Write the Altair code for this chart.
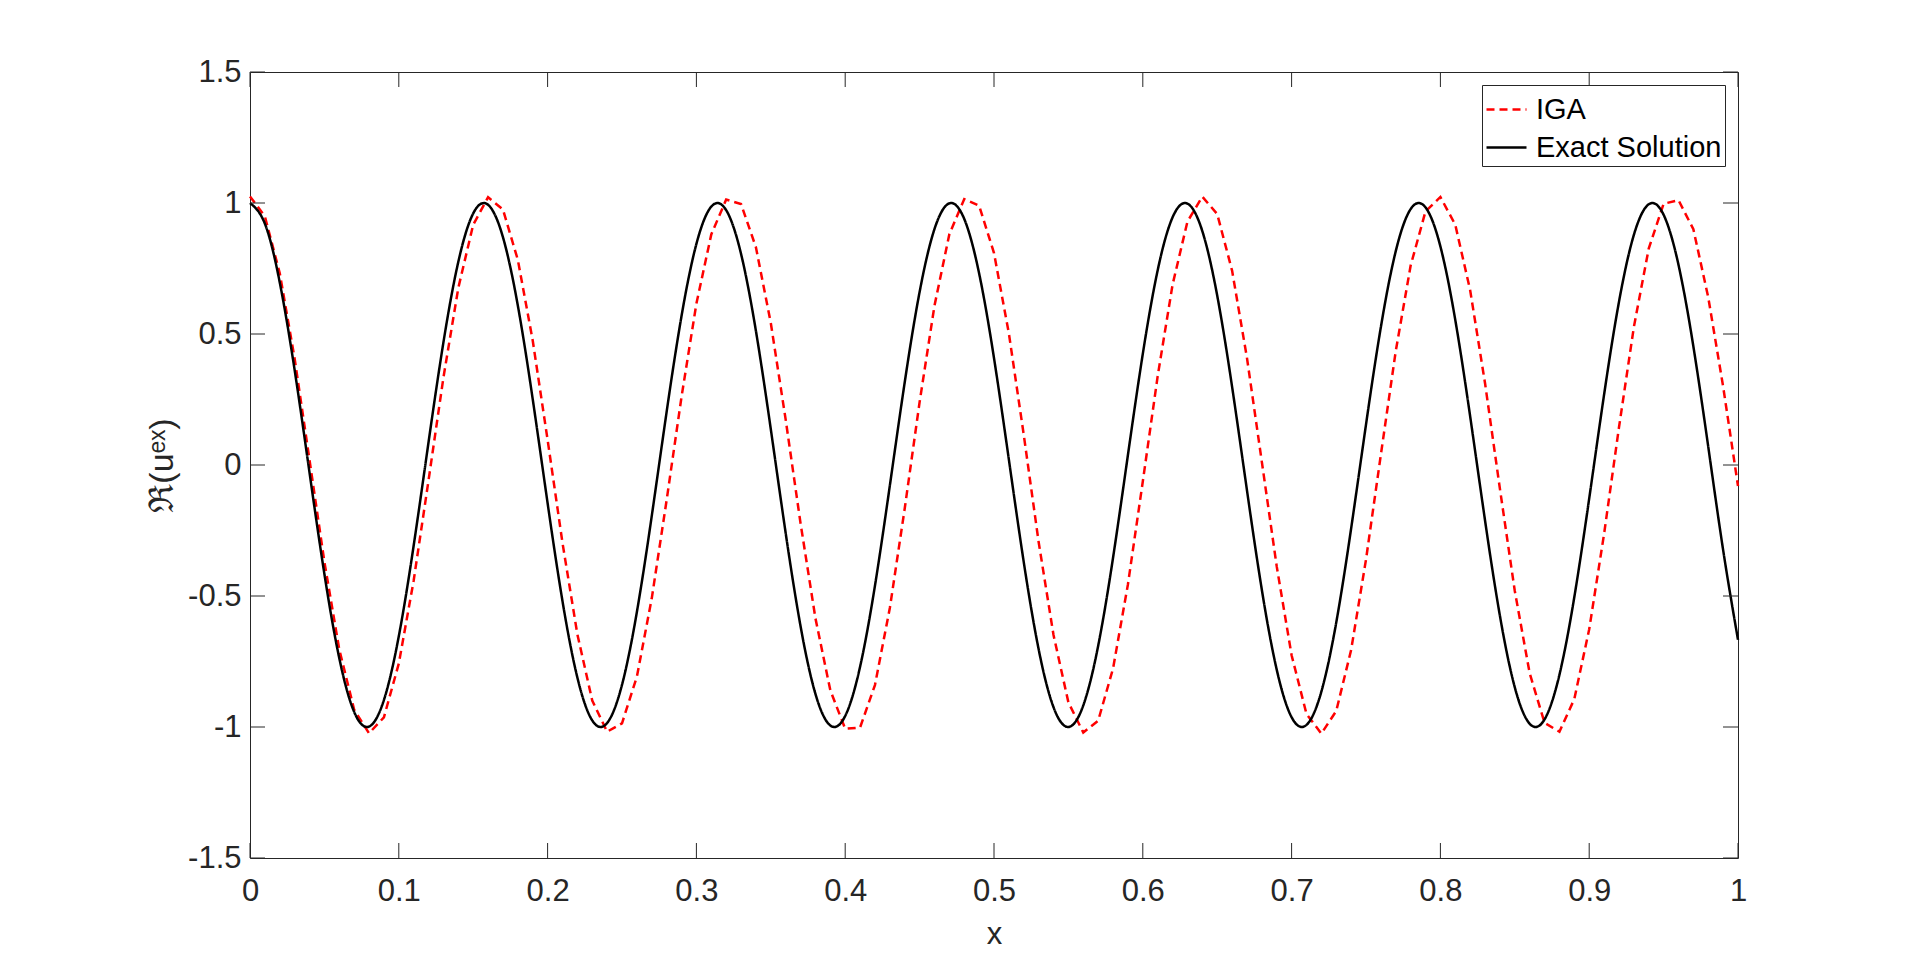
import altair as alt
import pandas as pd

# x positions of the sampled solutions
x_grid = [0.00, 0.01, 0.02, 0.03, 0.04, 0.05, 0.06, 0.07, 0.08, 0.09,
          0.10, 0.11, 0.12, 0.13, 0.14, 0.15, 0.16, 0.17, 0.18, 0.19,
          0.20, 0.21, 0.22, 0.23, 0.24, 0.25, 0.26, 0.27, 0.28, 0.29,
          0.30, 0.31, 0.32, 0.33, 0.34, 0.35, 0.36, 0.37, 0.38, 0.39,
          0.40, 0.41, 0.42, 0.43, 0.44, 0.45, 0.46, 0.47, 0.48, 0.49,
          0.50, 0.51, 0.52, 0.53, 0.54, 0.55, 0.56, 0.57, 0.58, 0.59,
          0.60, 0.61, 0.62, 0.63, 0.64, 0.65, 0.66, 0.67, 0.68, 0.69,
          0.70, 0.71, 0.72, 0.73, 0.74, 0.75, 0.76, 0.77, 0.78, 0.79,
          0.80, 0.81, 0.82, 0.83, 0.84, 0.85, 0.86, 0.87, 0.88, 0.89,
          0.90, 0.91, 0.92, 0.93, 0.94, 0.95, 0.96, 0.97, 0.98, 0.99,
          1.00]

# exact solution (black solid)
exact_vals = [1.0000, 0.9211, 0.6967, 0.3624, -0.0292, -0.4161, -0.7374, -0.9422, -0.9983, -0.8968,
              -0.6536, -0.3073, 0.0875, 0.4685, 0.7756, 0.9602, 0.9932, 0.8694, 0.6084, 0.2513,
              -0.1455, -0.5193, -0.8111, -0.9749, -0.9847, -0.8391, -0.5610, -0.1944, 0.2031, 0.5684,
              0.8438, 0.9862, 0.9728, 0.8059, 0.5117, 0.1367, -0.2598, -0.6154, -0.8738, -0.9942,
              -0.9577, -0.7700, -0.4607, -0.0787, 0.3157, 0.6603, 0.9006, 0.9988, 0.9392, 0.7314,
              0.4081, 0.0204, -0.3707, -0.7032, -0.9245, -1.0000, -0.9176, -0.6904, -0.3541, 0.0380,
              0.4242, 0.7433, 0.9452, 0.9977, 0.8928, 0.6469, 0.2989, -0.0963, -0.4763, -0.7811,
              -0.9626, -0.9921, -0.8650, -0.6013, -0.2427, 0.1543, 0.5268, 0.8162, 0.9768, 0.9832,
              0.8342, 0.5536, 0.1857, -0.2117, -0.5756, -0.8486, -0.9876, -0.9708, -0.8006, -0.5041,
              -0.1280, 0.2684, 0.6223, 0.8780, 0.9951, 0.9551, 0.7643, 0.4528, 0.0699, -0.3241,
              -0.6669]

# IGA solution (red dashed)
iga_vals = [1.025, 0.949, 0.732, 0.406, 0.019, -0.370, -0.704, -0.934, -1.024, -0.963,
            -0.758, -0.441, -0.058, 0.334, 0.676, 0.917, 1.022, 0.975, 0.783, 0.475,
            0.096, -0.297, -0.646, -0.899, -1.018, -0.986, -0.808, -0.509, -0.134, 0.260,
            0.616, 0.880, 1.013, 0.996, 0.831, 0.542, 0.173, -0.223, -0.585, -0.860,
            -1.007, -1.002, -0.840, -0.546, -0.166, 0.240, 0.608, 0.881, 1.015, 0.990,
            0.809, 0.502, 0.115, -0.294, -0.649, -0.906, -1.021, -0.976, -0.777, -0.456,
            -0.063, 0.339, 0.688, 0.929, 1.024, 0.958, 0.742, 0.409, 0.012, -0.387,
            -0.726, -0.950, -1.025, -0.939, -0.706, -0.361, 0.040, 0.435, 0.761, 0.968,
            1.023, 0.917, 0.667, 0.312, -0.091, -0.481, -0.795, -0.984, -1.018, -0.893,
            -0.627, -0.263, 0.143, 0.526, 0.826, 0.997, 1.011, 0.900, 0.640, 0.300,
            -0.080]

series_names = ["IGA", "Exact Solution"]
series_colors = ["#FF0000", "#000000"]
series_dash = [[8, 5], [1, 0]]

x_ticks = [0, 0.1, 0.2, 0.3, 0.4, 0.5, 0.6, 0.7, 0.8, 0.9, 1]
y_ticks = [-1.5, -1, -0.5, 0, 0.5, 1, 1.5]

W, H = 1488, 786
TICK = 15
AX = "#262626"
FONT = "Liberation Sans"

df_iga = pd.DataFrame({"x": x_grid, "y": iga_vals, "series": series_names[0]})
df_exact = pd.DataFrame({"x": x_grid, "y": exact_vals, "series": series_names[1]})
df_xt = pd.DataFrame({"x": x_ticks})
df_yt = pd.DataFrame({"y": y_ticks})

xscale = alt.Scale(domain=[0, 1], nice=False, zero=False)
yscale = alt.Scale(domain=[-1.5, 1.5], nice=False, zero=False)

xaxis = alt.Axis(values=x_ticks, labelExpr="datum.value + ''", ticks=False, tickSize=0,
                 domain=False, grid=False, title="x", labelFontSize=31, titleFontSize=31,
                 labelPadding=18, titlePadding=13, labelColor=AX, titleColor=AX,
                 labelFlush=False, titleFontWeight="normal", labelFont=FONT, titleFont=FONT)
yaxis = alt.Axis(values=y_ticks, labelExpr="datum.value + ''", ticks=False, tickSize=0,
                 domain=False, grid=False, title="ℜ(uᵉˣ)", labelFontSize=31, titleFontSize=34,
                 labelPadding=9, titlePadding=8, labelColor=AX, titleColor=AX,
                 labelFlush=False, titleFontWeight="normal", labelFont=FONT, titleFont=FONT)

leg = alt.Legend(title=None, orient="top-right", offset=13, symbolType="stroke",
                 symbolSize=1600, symbolStrokeWidth=2.5, labelFontSize=29, labelFont=FONT,
                 labelColor="#000000", padding=3, strokeColor=AX, fillColor="white",
                 labelOffset=8, rowPadding=1, labelLimit=600)

color = alt.Color("series:N", scale=alt.Scale(domain=series_names, range=series_colors), legend=leg)
dash = alt.StrokeDash("series:N", scale=alt.Scale(domain=series_names, range=series_dash), legend=leg)

X = alt.X("x:Q", scale=xscale, axis=xaxis)
Y = alt.Y("y:Q", scale=yscale, axis=yaxis)

iga_line = alt.Chart(df_iga).mark_line(strokeWidth=2.5).encode(
    x=X, y=Y, color=color, strokeDash=dash)
exact_line = alt.Chart(df_exact).mark_line(strokeWidth=2.5, interpolate="natural").encode(
    x=X, y=Y, color=color, strokeDash=dash)

xt_bottom = alt.Chart(df_xt).mark_rule(color=AX, strokeWidth=1).encode(
    x=X, y=alt.value(H), y2=alt.value(H - TICK))
xt_top = alt.Chart(df_xt).mark_rule(color=AX, strokeWidth=1).encode(
    x=X, y=alt.value(0), y2=alt.value(TICK))
yt_left = alt.Chart(df_yt).mark_rule(color=AX, strokeWidth=1).encode(
    y=Y, x=alt.value(0), x2=alt.value(TICK))
yt_right = alt.Chart(df_yt).mark_rule(color=AX, strokeWidth=1).encode(
    y=Y, x=alt.value(W), x2=alt.value(W - TICK))

chart = alt.layer(iga_line, exact_line, xt_bottom, xt_top, yt_left, yt_right).properties(
    width=W, height=H,
    autosize=alt.AutoSizeParams(type="none"),
    padding={"left": 242, "top": 64, "right": 174, "bottom": 98},
    background="white",
).configure(font=FONT).configure_view(stroke=AX, strokeWidth=1)

chart.save("out.html", embed_options={"renderer": "svg", "actions": False})
